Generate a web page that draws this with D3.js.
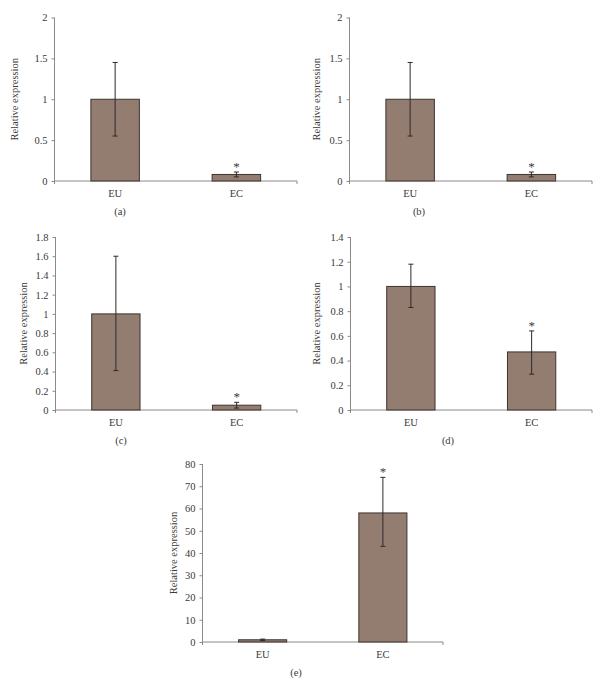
<!DOCTYPE html>
<html>
<head>
<meta charset="utf-8">
<script src="https://cdnjs.cloudflare.com/ajax/libs/d3/7.8.5/d3.min.js"></script>
<style>
  body { margin: 0; background: #fff; }
  svg text { font-family: "Liberation Serif", "DejaVu Serif", serif; fill: #3a3a3a; }
</style>
</head>
<body>
<div id="chart"></div>
<script>
var categories = ['EU', 'EC'];
var panelLabels = ['(a)', '(b)', '(c)', '(d)', '(e)'];
var means = [[1, 0.08], [1, 0.08], [1, 0.05], [1, 0.47], [1, 58]];
var errLow = [[0.55, 0.05], [0.55, 0.05], [0.41, 0.02], [0.83, 0.29], [0.7, 43]];
var errHigh = [[1.45, 0.11], [1.45, 0.11], [1.6, 0.08], [1.18, 0.64], [1.3, 74]];
var starred = [[false, true], [false, true], [false, true], [false, true], [false, true]];
var yMax = [2, 2, 1.8, 1.4, 80];
var yStep = [0.5, 0.5, 0.2, 0.2, 10];
var yTitle = 'Relative expression';

// plot boxes in page pixels: left axis, right end, top tick, zero line, title x, panel label x
var layout = [
  { x0: 54.5, x1: 297, top: 17.5, zero: 181, titleX: 14, labelX: 120 },
  { x0: 349.5, x1: 592, top: 17.5, zero: 181, titleX: 316, labelX: 419 },
  { x0: 55.5, x1: 297, top: 237, zero: 410, titleX: 23, labelX: 121 },
  { x0: 350.5, x1: 592, top: 237, zero: 410, titleX: 316, labelX: 448 },
  { x0: 202.5, x1: 443, top: 464, zero: 642, titleX: 173, labelX: 296 },
];

var barFill = '#937c70';
var barStroke = '#3e3430';
var axisColor = '#8a8a8a';

var svg = d3.select('#chart').append('svg')
  .attr('width', 603)
  .attr('height', 683);

for (var i = 0; i < layout.length; i++) {
  drawPanel(svg, i);
}

function drawPanel(svg, i) {
  var box = layout[i];
  var g = svg.append('g');

  var x = d3.scaleBand()
    .domain(categories)
    .range([box.x0, box.x1])
    .paddingInner(0.6)
    .paddingOuter(0.3);
  var y = d3.scaleLinear()
    .domain([0, yMax[i]])
    .range([box.zero, box.top]);

  var ticks = d3.range(0, yMax[i] + yStep[i] / 2, yStep[i]);
  var yAxis = g.append('g')
    .attr('transform', 'translate(' + box.x0 + ',0)')
    .call(d3.axisLeft(y)
      .tickValues(ticks)
      .tickSize(3)
      .tickSizeOuter(0)
      .tickPadding(4)
      .tickFormat(function (d) { return String(+d.toFixed(2)); }));
  yAxis.select('.domain').remove();
  yAxis.selectAll('line').attr('stroke', axisColor);
  yAxis.selectAll('text')
    .attr('font-size', 10.5)
    .style('font-family', '"Liberation Serif", serif')
    .attr('fill', '#3a3a3a');

  // axis lines
  g.append('line')
    .attr('x1', box.x0).attr('x2', box.x0)
    .attr('y1', box.top).attr('y2', box.zero + 3)
    .attr('stroke', axisColor);
  g.append('line')
    .attr('x1', box.x0).attr('x2', box.x1)
    .attr('y1', box.zero).attr('y2', box.zero)
    .attr('stroke', axisColor);
  g.append('line')
    .attr('x1', box.x1).attr('x2', box.x1)
    .attr('y1', box.zero).attr('y2', box.zero + 3)
    .attr('stroke', axisColor);

  var rows = categories.map(function (c, j) {
    return { key: c, mean: means[i][j], lo: errLow[i][j], hi: errHigh[i][j], star: starred[i][j] };
  });

  g.selectAll('.bar')
    .data(rows)
    .enter()
    .append('rect')
    .attr('class', 'bar')
    .attr('x', function (d) { return x(d.key); })
    .attr('y', function (d) { return y(d.mean); })
    .attr('width', x.bandwidth())
    .attr('height', function (d) { return box.zero - y(d.mean); })
    .attr('fill', barFill)
    .attr('stroke', barStroke)
    .attr('stroke-width', 1);

  var err = g.selectAll('.err')
    .data(rows)
    .enter()
    .append('g')
    .attr('class', 'err')
    .attr('stroke', '#2e2a28')
    .attr('stroke-width', 1);
  err.append('line')
    .attr('x1', function (d) { return x(d.key) + x.bandwidth() / 2; })
    .attr('x2', function (d) { return x(d.key) + x.bandwidth() / 2; })
    .attr('y1', function (d) { return y(d.lo); })
    .attr('y2', function (d) { return y(d.hi); });
  [['lo'], ['hi']].forEach(function (k) {
    err.append('line')
      .attr('x1', function (d) { return x(d.key) + x.bandwidth() / 2 - 2.5; })
      .attr('x2', function (d) { return x(d.key) + x.bandwidth() / 2 + 2.5; })
      .attr('y1', function (d) { return y(d[k[0]]); })
      .attr('y2', function (d) { return y(d[k[0]]); });
  });

  g.selectAll('.star')
    .data(rows.filter(function (d) { return d.star; }))
    .enter()
    .append('text')
    .attr('class', 'star')
    .attr('x', function (d) { return x(d.key) + x.bandwidth() / 2; })
    .attr('y', function (d) { return y(d.hi) - 1; })
    .attr('text-anchor', 'middle')
    .attr('font-size', 13)
    .text('*');

  g.selectAll('.cat')
    .data(categories)
    .enter()
    .append('text')
    .attr('class', 'cat')
    .attr('x', function (d) { return x(d) + x.bandwidth() / 2; })
    .attr('y', box.zero + 16)
    .attr('text-anchor', 'middle')
    .attr('font-size', 10.5)
    .text(function (d) { return d; });

  g.append('text')
    .attr('transform', 'translate(' + (box.titleX + 4) + ',' + ((box.top + box.zero) / 2) + ') rotate(-90)')
    .attr('text-anchor', 'middle')
    .attr('font-size', 10.5)
    .text(yTitle);

  g.append('text')
    .attr('x', box.labelX)
    .attr('y', box.zero + 34)
    .attr('text-anchor', 'middle')
    .attr('font-size', 10.5)
    .text(panelLabels[i]);
}
</script>
</body>
</html>
